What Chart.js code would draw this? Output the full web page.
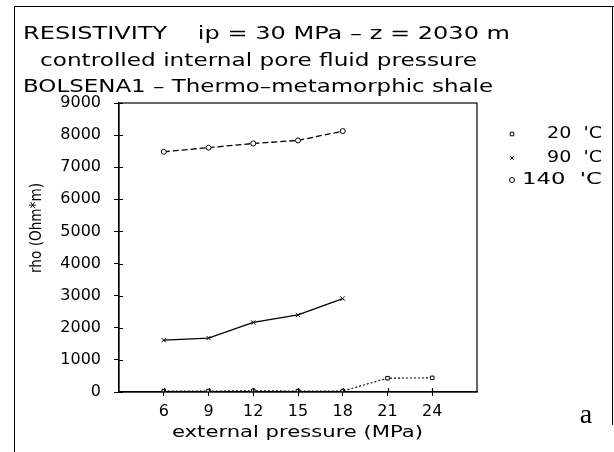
<!DOCTYPE html>
<html>
<head>
<meta charset="utf-8">
<script src="https://cdn.jsdelivr.net/npm/chart.js@4.4.1/dist/chart.umd.min.js"></script>
<style>
  html, body { margin: 0; padding: 0; background: #fff; }
  #wrap { width: 614px; height: 452px; }
</style>
</head>
<body>
<div id="wrap"><canvas id="chart" width="614" height="452"></canvas></div>
<script>
// Data
const pressures = [6, 9, 12, 15, 18, 21, 24];
const labels = ['20  \'C', '90  \'C', '140  \'C'];
const rho20 = [30, 30, 40, 30, 30, 430, 440];
const rho90 = [1615, 1680, 2165, 2400, 2910];
const rho140 = [7480, 7610, 7740, 7835, 8125];
const yTicks = [0, 1000, 2000, 3000, 4000, 5000, 6000, 7000, 8000, 9000];

const titleLines = [
  'RESISTIVITY    ip = 30 MPa \u2013 z = 2030 m',
  'controlled internal pore fluid pressure',
  'BOLSENA1 \u2013 Thermo\u2013metamorphic shale'
];

function toPoints(ys) {
  return ys.map((y, i) => ({ x: pressures[i], y }));
}

// draw text stretched to a given width
function fitText(ctx, text, x, y, w) {
  const m = ctx.measureText(text).width;
  ctx.save();
  ctx.translate(x, y);
  ctx.scale(w / m, 1);
  ctx.textAlign = 'left';
  ctx.fillText(text, 0, 0);
  ctx.restore();
}

const decor = {
  id: 'decor',
  afterDraw(chart) {
    const ctx = chart.ctx;
    const a = chart.chartArea;
    ctx.save();
    ctx.strokeStyle = '#000';
    ctx.fillStyle = '#000';

    // outer frame
    ctx.lineWidth = 1;
    ctx.beginPath();
    ctx.moveTo(14.5, 452); ctx.lineTo(14.5, 6.5); ctx.lineTo(614, 6.5);
    ctx.moveTo(612.5, 6.5); ctx.lineTo(612.5, 425);
    ctx.stroke();

    // plot box
    ctx.lineWidth = 1.2;
    ctx.strokeRect(a.left, a.top, a.right - a.left, a.bottom - a.top);

    // inner tick marks
    const ys = chart.scales.y, xs = chart.scales.x;
    ctx.beginPath();
    yTicks.forEach(v => {
      const py = Math.round(ys.getPixelForValue(v)) + 0.5;
      ctx.moveTo(a.left, py); ctx.lineTo(a.left + 4, py);
    });
    pressures.forEach(v => {
      const px = Math.round(xs.getPixelForValue(v)) + 0.5;
      ctx.moveTo(px, a.bottom); ctx.lineTo(px, a.bottom - 4);
    });
    ctx.stroke();

    // titles
    ctx.textBaseline = 'alphabetic';
    ctx.font = '18px "DejaVu Sans"';
    fitText(ctx, titleLines[0], 23, 39, 487);
    fitText(ctx, titleLines[1], 40, 66, 437);
    fitText(ctx, titleLines[2], 23, 92, 470);

    // x axis title
    ctx.font = '16px "DejaVu Sans"';
    fitText(ctx, 'external pressure (MPa)', 172, 437, 251);

    // y axis title
    ctx.save();
    ctx.translate(41, 273);
    ctx.rotate(-Math.PI / 2);
    ctx.font = '15px "DejaVu Sans"';
    fitText(ctx, 'rho (Ohm*m)', 0, 0, 90);
    ctx.restore();

    // legend
    const rows = [138, 162, 184];
    const starts = [547, 547, 522];
    ctx.font = '15px "DejaVu Sans"';
    chart.data.datasets.forEach((ds, i) => {
      ctx.lineWidth = 1;
      ctx.fillStyle = '#fff';
      Chart.helpers.drawPoint(ctx, {
        pointStyle: ds.pointStyle, radius: 2.5, rotation: 0, borderWidth: 1
      }, 512, rows[i] - 4);
      ctx.fillStyle = '#000';
      fitText(ctx, ds.label, starts[i], rows[i], 602 - starts[i]);
    });

    // panel letter
    ctx.textAlign = 'center';
    ctx.font = '28px "Liberation Serif"';
    ctx.fillText('a', 586, 423);

    ctx.restore();
  }
};

const tickFont = { family: 'DejaVu Sans', size: 16 };

new Chart(document.getElementById('chart'), {
  type: 'line',
  data: {
    datasets: [
      {
        label: labels[0],
        data: toPoints(rho20),
        borderColor: '#000',
        backgroundColor: '#fff',
        borderWidth: 1.1,
        borderDash: [2, 2],
        pointStyle: 'rect',
        pointRadius: 2.5,
        pointBorderWidth: 1
      },
      {
        label: labels[1],
        data: toPoints(rho90),
        borderColor: '#000',
        backgroundColor: '#000',
        borderWidth: 1.3,
        pointStyle: 'crossRot',
        pointRadius: 3,
        pointBorderWidth: 1
      },
      {
        label: labels[2],
        data: toPoints(rho140),
        borderColor: '#000',
        backgroundColor: '#fff',
        borderWidth: 1.3,
        borderDash: [6, 3],
        pointStyle: 'circle',
        pointRadius: 2.5,
        pointBorderWidth: 1
      }
    ]
  },
  options: {
    responsive: false,
    animation: false,
    layout: { padding: { top: 103, right: 137, left: 0, bottom: 0 } },
    plugins: {
      legend: { display: false },
      tooltip: { enabled: false }
    },
    scales: {
      x: {
        type: 'linear',
        min: 3,
        max: 27,
        afterBuildTicks: s => { s.ticks = pressures.map(v => ({ value: v })); },
        afterFit: s => { s.height = 60; },
        grid: { drawOnChartArea: false, tickLength: 4, color: '#000' },
        border: { color: '#000', width: 1.2 },
        ticks: { color: '#000', font: tickFont, padding: 6, maxRotation: 0, callback: v => String(v) }
      },
      y: {
        min: 0,
        max: 9000,
        afterBuildTicks: s => { s.ticks = yTicks.map(v => ({ value: v })); },
        afterFit: s => { s.width = 119; },
        grid: { drawOnChartArea: false, tickLength: 5, color: '#000' },
        border: { color: '#000', width: 1.2 },
        ticks: { color: '#000', font: tickFont, padding: 13, callback: v => String(v) }
      }
    }
  },
  plugins: [decor]
});
</script>
</body>
</html>
